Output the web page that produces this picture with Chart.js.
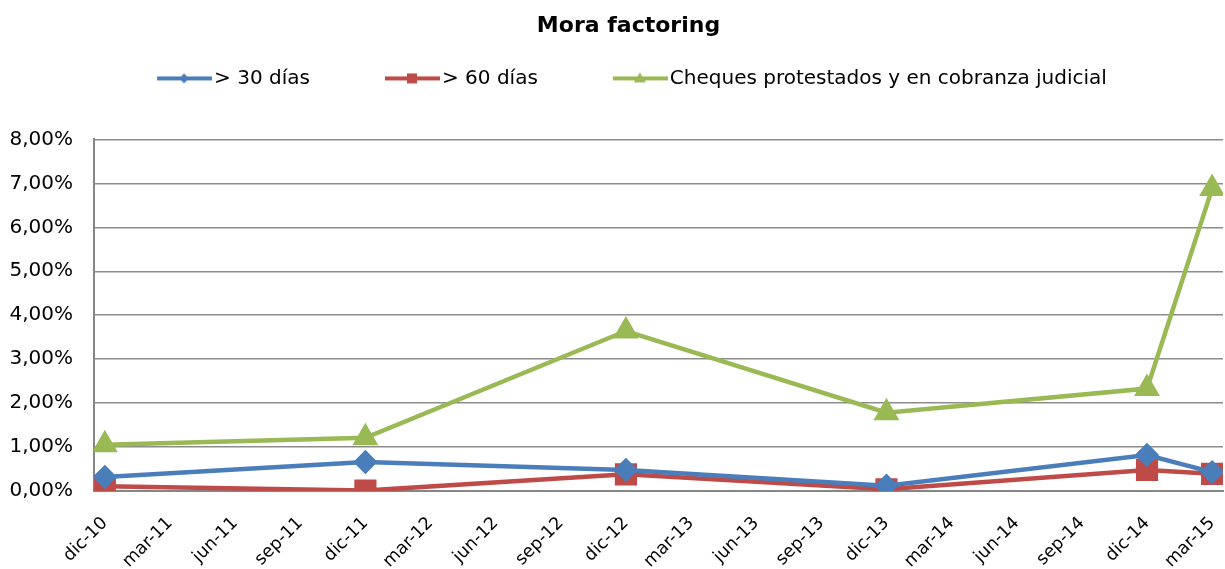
<!DOCTYPE html>
<html>
<head>
<meta charset="utf-8">
<script src="https://cdn.jsdelivr.net/npm/chart.js@4/dist/chart.umd.min.js"></script>
<style>
  html, body { margin: 0; padding: 0; background: #fff; }
  #wrap { width: 1225px; height: 569px; }
</style>
</head>
<body>
<div id="wrap"><canvas id="moraChart"></canvas></div>
<script>
// quarterly tick labels on the date axis (one every 3 months)
const tickLabels = ['dic-10', 'mar-11', 'jun-11', 'sep-11', 'dic-11', 'mar-12', 'jun-12', 'sep-12',
  'dic-12', 'mar-13', 'jun-13', 'sep-13', 'dic-13', 'mar-14', 'jun-14', 'sep-14', 'dic-14', 'mar-15'];
// observation dates, as months since dic-10
const months = [0, 12, 24, 36, 48, 51];
// values in %
const mora30 = [0.32, 0.66, 0.48, 0.12, 0.82, 0.43];
const mora60 = [0.11, 0.01, 0.38, 0.04, 0.48, 0.39];
const cheques = [1.05, 1.21, 3.64, 1.78, 2.33, 6.88];

const toPoints = vals => vals.map((v, i) => ({ x: months[i], y: v }));
const FONT = "'DejaVu Sans', sans-serif";

// legend icon: blank gap on the left, then line with small marker
function legendIcon(color, marker) {
  const c = document.createElement('canvas');
  c.width = 128; c.height = 14;
  const g = c.getContext('2d');
  g.strokeStyle = color; g.fillStyle = color; g.lineWidth = 4;
  g.beginPath(); g.moveTo(73, 7); g.lineTo(128, 7); g.stroke();
  g.beginPath();
  const m = 100;
  if (marker === 'diamond') {
    g.moveTo(m, 2); g.lineTo(m + 5, 7); g.lineTo(m, 12); g.lineTo(m - 5, 7);
  } else if (marker === 'square') {
    g.rect(m - 5, 2, 10, 10);
  } else {
    g.moveTo(m, 1); g.lineTo(m + 6, 11); g.lineTo(m - 6, 11);
  }
  g.closePath(); g.fill();
  return c;
}

const blue = '#4a7ebb', red = '#be4b48', green = '#98b954';

const ctx = document.getElementById('moraChart').getContext('2d');

new Chart(ctx, {
  type: 'line',
  data: {
    datasets: [{
      label: '> 30 días',
      data: toPoints(mora30),
      borderColor: blue,
      backgroundColor: blue,
      borderWidth: 4.5,
      pointStyle: 'rectRot',
      pointRadius: 9,
      legendIcon: legendIcon(blue, 'diamond')
    }, {
      label: '> 60 días',
      data: toPoints(mora60),
      borderColor: red,
      backgroundColor: red,
      borderWidth: 4.5,
      pointStyle: 'rect',
      pointRadius: 12.5,
      legendIcon: legendIcon(red, 'square')
    }, {
      label: 'Cheques protestados y en cobranza judicial',
      data: toPoints(cheques),
      borderColor: green,
      backgroundColor: green,
      borderWidth: 4.5,
      pointStyle: 'triangle',
      pointRadius: 10.5,
      legendIcon: legendIcon(green, 'triangle')
    }]
  },
  options: {
    responsive: true,
    maintainAspectRatio: false,
    animation: false,
    layout: { autoPadding: false, padding: { left: 10, right: 2, bottom: 0 } },
    plugins: {
      title: {
        display: true,
        text: 'Mora factoring',
        color: '#000',
        font: { family: FONT, size: 22, weight: 'bold' },
        padding: { top: 13, bottom: 19 }
      },
      legend: {
        labels: {
          usePointStyle: true,
          pointStyleWidth: 112,
          padding: 10,
          color: '#000',
          font: { family: FONT, size: 20 },
          generateLabels: chart => chart.data.datasets.map((ds, i) => ({
            text: ds.label,
            pointStyle: ds.legendIcon,
            fillStyle: ds.borderColor,
            strokeStyle: ds.borderColor,
            lineWidth: 0,
            datasetIndex: i
          }))
        }
      },
      tooltip: { enabled: false }
    },
    scales: {
      x: {
        type: 'linear',
        min: -0.5,
        max: 51.5,
        afterBuildTicks: scale => { scale.ticks = tickLabels.map((_, i) => ({ value: i * 3 })); },
        afterFit: scale => { scale.paddingLeft = 0; scale.paddingRight = 0; scale.height = 78; },
        grid: { display: false },
        border: { color: '#868686', width: 2 },
        ticks: {
          autoSkip: false,
          maxRotation: 45,
          minRotation: 45,
          padding: 14,
          color: '#000',
          font: { family: FONT, size: 17.5 },
          callback: v => tickLabels[Math.round(v / 3)]
        }
      },
      y: {
        min: 0,
        max: 8,
        afterFit: scale => { scale.width = 84; },
        grid: { color: '#8c8c8c', lineWidth: 1.5, drawTicks: false },
        border: { color: '#868686', width: 2 },
        ticks: {
          stepSize: 1,
          padding: 21,
          color: '#000',
          font: { family: FONT, size: 20 },
          callback: v => v.toFixed(2).replace('.', ',') + '%'
        }
      }
    }
  },
  plugins: [{
    id: 'legendGap',
    beforeInit(chart) {
      const fit = chart.legend.fit;
      chart.legend.fit = function () {
        fit.call(this);
        this.height += 41;
      };
    },
    afterLayout(chart) {
      // title and legend are slightly off-centre in the original
      chart.legend.left -= 17;
      chart.legend.right -= 17;
      chart.titleBlock.left += 12;
      chart.titleBlock.right += 12;
    }
  }]
});
</script>
</body>
</html>
